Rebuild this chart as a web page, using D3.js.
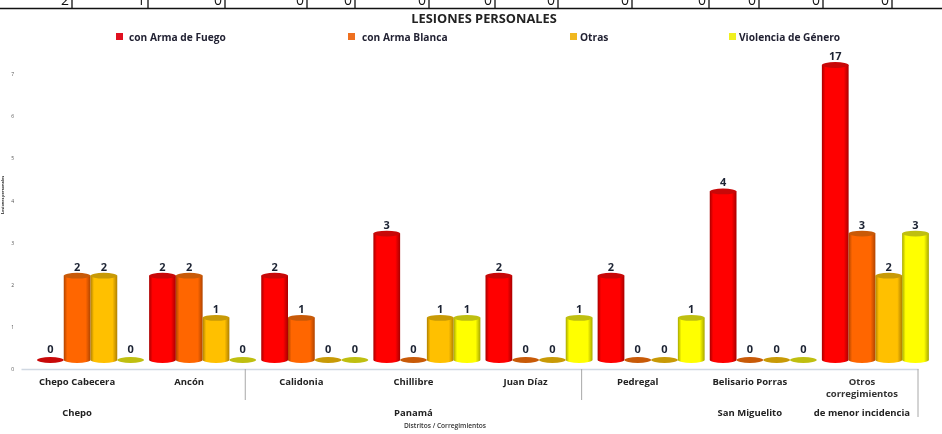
<!DOCTYPE html>
<html><head><meta charset="utf-8">
<script src="https://cdn.jsdelivr.net/npm/d3@7/dist/d3.min.js"></script>
<style>html,body{margin:0;padding:0;background:#fff;overflow:hidden}svg{display:block;filter:blur(.45px)}text{font-family:"Open Sans",sans-serif}</style>
</head><body><svg id="c" width="942" height="434"></svg>
<script>
const categories=["Chepo Cabecera","Ancón","Calidonia","Chillibre","Juan Díaz","Pedregal","Belisario Porras","Otros|corregimientos"];
const seriesNames=["con Arma de Fuego","con Arma Blanca","Otras","Violencia de Género"];
const fuego=[0,2,2,3,2,2,4,17];
const blanca=[2,2,1,0,0,0,0,3];
const otras=[2,1,0,1,0,0,0,2];
const violencia=[0,0,0,1,1,1,0,3];
const yTicks=[0,1,2,3,4,5,6,7];
const districts=[["Chepo",0,0],["Panamá",2,4],["San Miguelito",6,6],["de menor incidencia",7,7]];
const separators=[2,5,8];
const tableValues=[2,1,0,0,0,0,0,0,0,0,0,0,0];
const tableEdges=[72,148,225,307,355,429,495,558,632,709,759,823,892];
const colours=["#ff0000","#ff6600","#ffc000","#ffff00"];
const darks=["#a80000","#b04400","#b08000","#a8a800"];
const tops=["#c80808","#c85a08","#c89a06","#bfbf10"];
const swatches=["#e01020","#ee7020","#f0b820","#f0f020"];
const legendX=[116,348,570,729];
const legendTextX=[129,362,580,739];

const svg=d3.select("#c");
const values=[fuego,blanca,otras,violencia];
const x0=d3.scaleBand().domain(categories).range([21,918]);
const x1=d3.scaleBand().domain(seriesNames).range([16,123]);
const y=d3.scaleLinear().domain([0,7]).range([369,74]).clamp(true);
const lift=9,ry=2.9;

const defs=svg.append("defs");
colours.forEach((c,i)=>{
  const g=defs.append("linearGradient").attr("id","g"+i);
  [[0,darks[i]],[.13,c],[.82,c],[1,darks[i]]].forEach(s=>g.append("stop").attr("offset",s[0]).attr("stop-color",s[1]));
});

// clipped table row at top
const strip=svg.append("g");
tableValues.forEach((v,i)=>{
  strip.append("text").attr("x",tableEdges[i]-3).attr("y",5).attr("text-anchor","end").attr("font-size",14).attr("fill","#111").text(v);
  strip.append("line").attr("x1",tableEdges[i]).attr("x2",tableEdges[i]).attr("y1",0).attr("y2",8).attr("stroke","#111").attr("stroke-width",1.3);
});
strip.append("line").attr("x1",0).attr("x2",942).attr("y1",8.5).attr("y2",8.5).attr("stroke","#111").attr("stroke-width",1.6);

svg.append("text").attr("x",484).attr("y",22.5).attr("text-anchor","middle").attr("font-size",12.8).attr("font-weight",700).attr("fill","#222").text("LESIONES PERSONALES");

// legend
seriesNames.forEach((s,i)=>{
  svg.append("rect").attr("x",legendX[i]).attr("y",33).attr("width",7).attr("height",7).attr("fill",swatches[i]);
  svg.append("text").attr("x",legendTextX[i]).attr("y",40.5).attr("font-size",10.2).attr("font-weight",700).attr("fill","#223").text(s);
});

// y axis
const yAxis=svg.append("g").attr("transform","translate(14,0)").call(d3.axisLeft(y).tickValues(yTicks).tickSize(0).tickPadding(0).tickFormat(d3.format("d")));
yAxis.select(".domain").remove();
yAxis.selectAll("text").attr("font-size",5).attr("fill","#555").style("font-family","'Open Sans',sans-serif");
svg.append("text").attr("transform","translate(4,195) rotate(-90)").attr("text-anchor","middle").attr("font-size",3.8).attr("font-weight",700).attr("fill","#222").text("Lesiones personales");

// x axis
const xAxis=svg.append("g").attr("transform","translate(0,369)").call(d3.axisBottom(x0).tickSize(0).tickFormat(""));
xAxis.select(".domain").attr("stroke","#d0d8e2").attr("stroke-width",1.4);
xAxis.selectAll(".tick").each(function(d){
  const parts=d.split("|");
  const t=d3.select(this).append("text").attr("text-anchor","middle").attr("font-size",9.5).attr("font-weight",700).attr("fill",parts.length>1?"#333":"#222");
  parts.forEach((p,i)=>t.append("tspan").attr("x",0).attr("y",16+i*12).text(p));
});
separators.forEach(k=>{
  const sx=21+k*x0.step();
  svg.append("line").attr("x1",sx).attr("x2",sx).attr("y1",369).attr("y2",k==8?417:400).attr("stroke","#a8a8a8").attr("stroke-width",1);
});
districts.forEach(d=>{
  const a=x0(categories[d[1]]),b=x0(categories[d[2]])+x0.bandwidth();
  svg.append("text").attr("x",(a+b)/2).attr("y",415.5).attr("text-anchor","middle").attr("font-size",9.5).attr("font-weight",700).attr("fill","#222").text(d[0]);
});
svg.append("text").attr("x",445).attr("y",428).attr("text-anchor","middle").attr("font-size",6.6).attr("font-weight",600).attr("fill","#333").text("Distritos / Corregimientos");

// cylinders
categories.forEach((c,ci)=>{
  seriesNames.forEach((s,si)=>{
    const v=values[si][ci];
    const l=x0(c)+x1(s),w=x1.bandwidth(),cx=l+w/2,rx=w/2;
    const base=y(0)-lift,top=y(v)-lift;
    const g=svg.append("g");
    if(v===0){
      g.append("ellipse").attr("cx",cx).attr("cy",base).attr("rx",rx).attr("ry",ry).attr("fill",tops[si]);
    }else{
      g.append("path").attr("d",`M${l},${top}V${base}A${rx},${ry} 0 0 0 ${l+w},${base}V${top}Z`).attr("fill",`url(#g${si})`);
      g.append("ellipse").attr("cx",cx).attr("cy",top).attr("rx",rx).attr("ry",ry).attr("fill",tops[si]);
    }
    g.append("text").attr("x",cx).attr("y",top-(v===0?7:5)).attr("text-anchor","middle").attr("font-size",11).attr("font-weight",700).attr("fill","#1c2333").text(v);
  });
});
</script></body></html>
